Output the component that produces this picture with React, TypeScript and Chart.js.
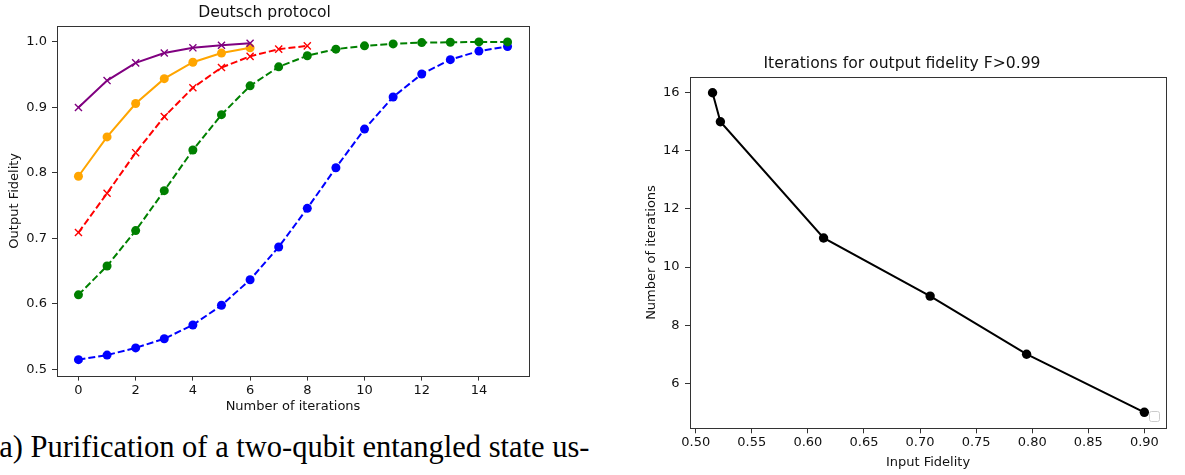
import React, { useEffect, useRef } from "react";
import { Chart, registerables } from "chart.js";
Chart.register(...registerables);

// ---- Left chart data (Deutsch protocol) ----
const ITERATIONS = [0, 1, 2, 3, 4, 5, 6, 7, 8, 9, 10, 11, 12, 13, 14, 15];
const PURPLE_F = [0.9, 0.941, 0.968, 0.983, 0.991, 0.995, 0.998];
const ORANGE_F = [0.795, 0.855, 0.906, 0.944, 0.969, 0.983, 0.991];
const RED_F = [0.709, 0.769, 0.831, 0.886, 0.93, 0.961, 0.978, 0.989, 0.994];
const GREEN_F = [0.614, 0.658, 0.712, 0.773, 0.835, 0.889, 0.933, 0.962, 0.979, 0.989, 0.994, 0.997, 0.999, 0.9995, 1.0, 1.0];
const BLUE_F = [0.515, 0.522, 0.533, 0.547, 0.568, 0.598, 0.637, 0.687, 0.746, 0.808, 0.867, 0.916, 0.951, 0.973, 0.986, 0.993];
const LEFT_X_TICKS = [0, 2, 4, 6, 8, 10, 12, 14];
const LEFT_Y_TICKS = [0.5, 0.6, 0.7, 0.8, 0.9, 1.0];

// ---- Right chart data ----
const INPUT_FIDELITY = [0.515, 0.522, 0.614, 0.709, 0.795, 0.9];
const ITERATIONS_NEEDED = [16, 15, 11, 9, 7, 5];
const RIGHT_X_TICKS = [0.5, 0.55, 0.6, 0.65, 0.7, 0.75, 0.8, 0.85, 0.9];
const RIGHT_Y_TICKS = [6, 8, 10, 12, 14, 16];

const FONT = "'DejaVu Sans', sans-serif";
const TEXT = "#111";

const framePlugin = {
  id: "frame",
  afterDatasetsDraw(chart: any) {
    const { ctx, chartArea } = chart;
    const l = Math.round(chartArea.left) + 0.5;
    const t = Math.round(chartArea.top) + 0.5;
    const r = Math.round(chartArea.right) + 0.5;
    const b = Math.round(chartArea.bottom) + 0.5;
    ctx.save();
    ctx.strokeStyle = "#333";
    ctx.lineWidth = 1;
    ctx.strokeRect(l, t, r - l, b - t);
    ctx.restore();
  },
};

const emptyLegendPlugin = {
  id: "emptyLegend",
  afterDraw(chart: any) {
    const { ctx, chartArea } = chart;
    ctx.save();
    ctx.strokeStyle = "#cccccc";
    ctx.fillStyle = "rgba(255,255,255,0.8)";
    ctx.lineWidth = 1;
    ctx.beginPath();
    (ctx as any).roundRect(Math.round(chartArea.right) - 16.5, Math.round(chartArea.bottom) - 16.5, 10, 10, 2);
    ctx.fill();
    ctx.stroke();
    ctx.restore();
  },
};

function series(xs: number[], ys: number[]) {
  return ys.map((y, i) => ({ x: xs[i], y }));
}

function axisCommon(tickValues: number[], fmt: (v: number) => string, pad: number) {
  return {
    type: "linear" as const,
    afterBuildTicks: (scale: any) => {
      scale.ticks = tickValues.map((v) => ({ value: v }));
    },
    grid: {
      drawOnChartArea: false,
      drawTicks: true,
      tickLength: 5,
      color: "#333",
    },
    border: { display: false },
    ticks: {
      font: { family: FONT, size: 13 },
      color: TEXT,
      padding: pad,
      callback: (v: any) => fmt(Number(v)),
    },
  };
}

function LeftChart() {
  const ref = useRef<HTMLCanvasElement>(null);
  useEffect(() => {
    const dash = [7, 3];
    const chart = new Chart(ref.current!, {
      type: "line",
      data: {
        datasets: [
          {
            data: series(ITERATIONS, PURPLE_F),
            borderColor: "#800080",
            backgroundColor: "#800080",
            borderWidth: 2,
            pointStyle: "crossRot",
            pointRadius: 5,
            pointBorderWidth: 1.4,
          },
          {
            data: series(ITERATIONS, ORANGE_F),
            borderColor: "#FFA500",
            backgroundColor: "#FFA500",
            borderWidth: 2,
            pointStyle: "circle",
            pointRadius: 4.5,
            pointBorderWidth: 0,
          },
          {
            data: series(ITERATIONS, RED_F),
            borderColor: "#FF0000",
            backgroundColor: "#FF0000",
            borderWidth: 2,
            borderDash: dash,
            pointStyle: "crossRot",
            pointRadius: 5,
            pointBorderWidth: 1.4,
          },
          {
            data: series(ITERATIONS, GREEN_F),
            borderColor: "#008000",
            backgroundColor: "#008000",
            borderWidth: 2,
            borderDash: dash,
            pointStyle: "circle",
            pointRadius: 4.5,
            pointBorderWidth: 0,
          },
          {
            data: series(ITERATIONS, BLUE_F),
            borderColor: "#0000FF",
            backgroundColor: "#0000FF",
            borderWidth: 2,
            borderDash: dash,
            pointStyle: "circle",
            pointRadius: 4.5,
            pointBorderWidth: 0,
          },
        ],
      },
      options: {
        responsive: false,
        animation: false,
        events: [],
        layout: { padding: { top: 0, left: 0, right: 16, bottom: 0 } },
        plugins: {
          legend: { display: false },
          tooltip: { enabled: false },
          title: {
            display: true,
            text: "Deutsch protocol",
            font: { family: FONT, size: 15.6, weight: "normal" },
            color: TEXT,
            padding: { top: 4, bottom: 3.3 },
          },
        },
        scales: {
          x: {
            ...axisCommon(LEFT_X_TICKS, (v) => String(v), 2),
            min: -0.75,
            max: 15.75,
            afterFit: (s: any) => {
              s.height = 44.4;
            },
            title: {
              display: true,
              text: "Number of iterations",
              font: { family: FONT, size: 13 },
              color: TEXT,
              padding: { top: 0, bottom: 5.2 },
            },
          },
          y: {
            ...axisCommon(LEFT_Y_TICKS, (v) => v.toFixed(1), 5),
            min: 0.4907,
            max: 1.0243,
            afterFit: (s: any) => {
              s.width = 57;
            },
            title: {
              display: true,
              text: "Output Fidelity",
              font: { family: FONT, size: 13 },
              color: TEXT,
              padding: { top: 6.7, bottom: 0 },
            },
          },
        },
      } as any,
      plugins: [framePlugin],
    });
    return () => chart.destroy();
  }, []);
  return (
    <canvas
      ref={ref}
      width={545}
      height={420}
      style={{ position: "absolute", left: 0, top: 0, width: 545, height: 420 }}
    />
  );
}

function RightChart() {
  const ref = useRef<HTMLCanvasElement>(null);
  useEffect(() => {
    const chart = new Chart(ref.current!, {
      type: "line",
      data: {
        datasets: [
          {
            data: series(INPUT_FIDELITY, ITERATIONS_NEEDED),
            borderColor: "#000",
            backgroundColor: "#000",
            borderWidth: 2,
            pointStyle: "circle",
            pointRadius: 4.7,
            pointBorderWidth: 0,
          },
        ],
      },
      options: {
        responsive: false,
        animation: false,
        events: [],
        layout: { padding: { top: 50.7, left: 38, right: 19, bottom: 0 } },
        plugins: {
          legend: { display: false },
          tooltip: { enabled: false },
          title: {
            display: true,
            text: "Iterations for output fidelity F>0.99",
            font: { family: FONT, size: 15.6, weight: "normal" },
            color: TEXT,
            padding: { top: 4, bottom: 3.3 },
          },
        },
        scales: {
          x: {
            ...axisCommon(RIGHT_X_TICKS, (v) => v.toFixed(2), 2),
            min: 0.4949,
            max: 0.9193,
            afterFit: (s: any) => {
              s.height = 46.7;
            },
            title: {
              display: true,
              text: "Input Fidelity",
              font: { family: FONT, size: 13 },
              color: TEXT,
              padding: { top: 0, bottom: 4.7 },
            },
          },
          y: {
            ...axisCommon(RIGHT_Y_TICKS, (v) => String(v), 5.5),
            min: 4.45,
            max: 16.55,
            afterFit: (s: any) => {
              s.width = 52;
            },
            title: {
              display: true,
              text: "Number of iterations",
              font: { family: FONT, size: 13 },
              color: TEXT,
              padding: { top: 6, bottom: 0 },
            },
          },
        },
      } as any,
      plugins: [framePlugin, emptyLegendPlugin],
    });
    return () => chart.destroy();
  }, []);
  return (
    <canvas
      ref={ref}
      width={585}
      height={475}
      style={{ position: "absolute", left: 600, top: 0, width: 585, height: 475 }}
    />
  );
}

export default function App() {
  return (
    <div
      style={{
        position: "absolute",
        left: 0,
        top: 0,
        width: 1185,
        height: 475,
        overflow: "hidden",
        background: "#fff",
      }}
    >
      <LeftChart />
      <RightChart />
      <div
        style={{
          position: "absolute",
          left: -11,
          top: 429,
          fontFamily: "'Liberation Serif', serif",
          fontSize: 30.5,
          lineHeight: "36px",
          whiteSpace: "nowrap",
          color: "#000",
        }}
      >
        (a) Purification of a two-qubit entangled state us-
      </div>
    </div>
  );
}
